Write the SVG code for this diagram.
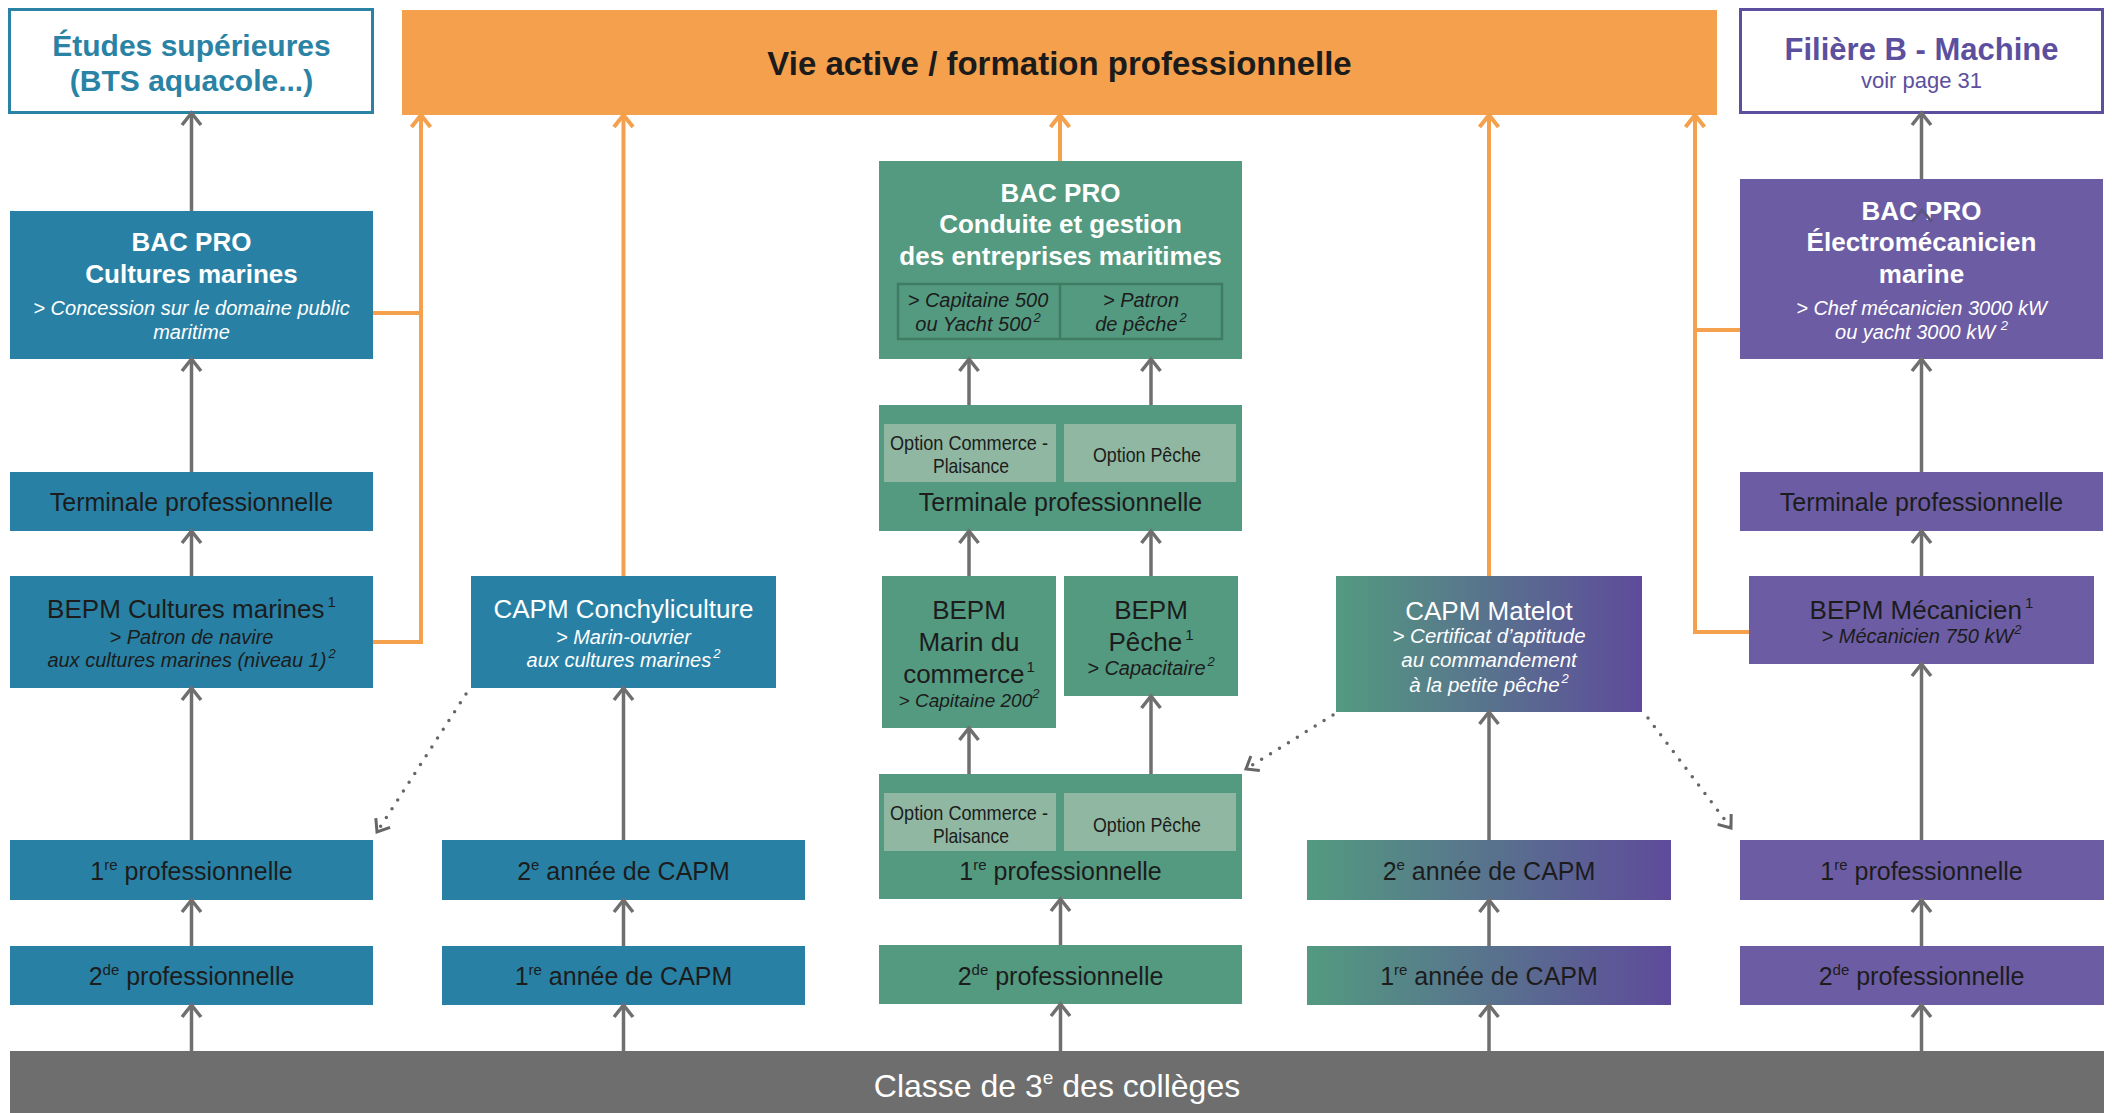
<svg xmlns="http://www.w3.org/2000/svg" width="2112" height="1113" viewBox="0 0 2112 1113">
<defs>
<style>
.blue{fill:#2881a5}
.green{fill:#539a80}
.purple{fill:#6c5ca3}
.grad{fill:url(#gr)}
.opt{fill:#8fb7a2}
.t{font-family:"Liberation Sans",Arial,sans-serif;text-anchor:middle}
.d{fill:#1c1c1c}
.w{fill:#ffffff}
.b{font-weight:bold}
.i{font-style:italic}
.s25{font-size:25px}
.s26{font-size:26px}
.s20{font-size:20px}
.s18{font-size:21px}
.arr{stroke:#6f6f6f;stroke-width:3.5;fill:none;marker-end:url(#ah)}
.oarr{stroke:#f5a04c;stroke-width:4;fill:none}
.oarrm{stroke:#f5a04c;stroke-width:4;fill:none;marker-end:url(#oh)}
.dot{stroke:#666666;stroke-width:3.5;stroke-dasharray:0 10.5;stroke-linecap:round;fill:none;marker-end:url(#dh)}
</style>
<linearGradient id="gr" x1="0" y1="0" x2="1" y2="0">
<stop offset="0" stop-color="#539a80"/>
<stop offset="1" stop-color="#5e4b9b"/>
</linearGradient>
<marker id="ah" markerUnits="userSpaceOnUse" markerWidth="32" markerHeight="32" viewBox="-16 -16 32 32" refX="0" refY="0" orient="auto">
<path d="M-12,-9.5 L0,0 L-12,9.5" fill="none" stroke="#6f6f6f" stroke-width="3.5"/>
</marker>
<marker id="oh" markerUnits="userSpaceOnUse" markerWidth="32" markerHeight="32" viewBox="-16 -16 32 32" refX="0" refY="0" orient="auto">
<path d="M-12,-9.5 L0,0 L-12,9.5" fill="none" stroke="#f5a04c" stroke-width="4"/>
</marker>
<marker id="dh" markerUnits="userSpaceOnUse" markerWidth="32" markerHeight="32" viewBox="-16 -16 32 32" refX="0" refY="0" orient="auto">
<path d="M-11,-8.5 L0,0 L-11,8.5" fill="none" stroke="#666666" stroke-width="3"/>
</marker>
</defs>
<rect width="2112" height="1113" fill="#ffffff"/>

<!-- Top row -->
<g id="etudes-superieures">
<rect x="9.5" y="9.5" width="363" height="103" fill="#ffffff" stroke="#2a83a5" stroke-width="3"/>
<text class="t b" x="191.5" y="56" font-size="30" fill="#2a83a5">Études supérieures</text>
<text class="t b" x="191.5" y="91" font-size="30" fill="#2a83a5">(BTS aquacole...)</text>
</g>
<g id="vie-active">
<rect x="402" y="10" width="1315" height="105" fill="#f5a04c"/>
<text class="t b" x="1059.5" y="75" font-size="33" fill="#1b1b1b">Vie active / formation professionnelle</text>
</g>
<g id="filiere-b">
<rect x="1740.5" y="9.5" width="362" height="103" fill="#ffffff" stroke="#5b4f9e" stroke-width="3"/>
<text class="t b" x="1921.5" y="60" font-size="31" fill="#5b4f9e">Filière B - Machine</text>
<text class="t" x="1921.5" y="88" font-size="22" fill="#5b4f9e">voir page 31</text>
</g>

<!-- Column 1 -->
<g id="bacpro-cultures">
<rect class="blue" x="10" y="211" width="363" height="148"/>
<text class="t b s26 w" x="191.5" y="251">BAC PRO</text>
<text class="t b s26 w" x="191.5" y="283">Cultures marines</text>
<text class="t i s20 w" x="191.5" y="315">&gt; Concession sur le domaine public</text>
<text class="t i s20 w" x="191.5" y="339">maritime</text>
</g>
<g id="terminale-cultures">
<rect class="blue" x="10" y="472" width="363" height="59"/>
<text class="t s25 d" x="191.5" y="511">Terminale professionnelle</text>
</g>
<g id="bepm-cultures">
<rect class="blue" x="10" y="576" width="363" height="112"/>
<text class="t s26 d" x="191.5" y="618">BEPM Cultures marines<tspan font-size="15" dx="3" dy="-11">1</tspan></text>
<text class="t i s20 d" x="191.5" y="644">&gt; Patron de navire</text>
<text class="t i s20 d" x="191.5" y="667">aux cultures marines (niveau 1)<tspan font-size="13" dx="2" dy="-9">2</tspan></text>
</g>
<g id="premiere-cultures">
<rect class="blue" x="10" y="840" width="363" height="60"/>
<text class="t s25 d" x="191.5" y="880">1<tspan font-size="15" dy="-10">re</tspan><tspan dy="10"> professionnelle</tspan></text>
</g>
<g id="seconde-cultures">
<rect class="blue" x="10" y="946" width="363" height="59"/>
<text class="t s25 d" x="191.5" y="985">2<tspan font-size="15" dy="-10">de</tspan><tspan dy="10"> professionnelle</tspan></text>
</g>

<!-- Column 2 -->
<g id="capm-conchyliculture">
<rect class="blue" x="471" y="576" width="305" height="112"/>
<text class="t s26 w" x="623.5" y="618">CAPM Conchyliculture</text>
<text class="t i s20 w" x="623.5" y="644">&gt; Marin-ouvrier</text>
<text class="t i s20 w" x="623.5" y="667">aux cultures marines<tspan font-size="13" dx="2" dy="-9">2</tspan></text>
</g>
<g id="capm2-conchyliculture">
<rect class="blue" x="442" y="840" width="363" height="60"/>
<text class="t s25 d" x="623.5" y="880">2<tspan font-size="15" dy="-10">e</tspan><tspan dy="10"> année de CAPM</tspan></text>
</g>
<g id="capm1-conchyliculture">
<rect class="blue" x="442" y="946" width="363" height="59"/>
<text class="t s25 d" x="623.5" y="985">1<tspan font-size="15" dy="-10">re</tspan><tspan dy="10"> année de CAPM</tspan></text>
</g>

<!-- Column 3 -->
<g id="bacpro-conduite">
<rect class="green" x="879" y="161" width="363" height="198"/>
<text class="t b s26 w" x="1060.5" y="202">BAC PRO</text>
<text class="t b s26 w" x="1060.5" y="233">Conduite et gestion</text>
<text class="t b s26 w" x="1060.5" y="265">des entreprises maritimes</text>
<rect x="898" y="284" width="324" height="55" fill="none" stroke="#3f7c63" stroke-width="2.5"/>
<line x1="1060" y1="284" x2="1060" y2="339" stroke="#3f7c63" stroke-width="2.5"/>
<text class="t i s20 d" x="978" y="307">&gt; Capitaine 500</text>
<text class="t i s20 d" x="978" y="331">ou Yacht 500<tspan font-size="13" dx="2" dy="-9">2</tspan></text>
<text class="t i s20 d" x="1141" y="307">&gt; Patron</text>
<text class="t i s20 d" x="1141" y="331">de pêche<tspan font-size="13" dx="2" dy="-9">2</tspan></text>
</g>
<g id="terminale-conduite">
<rect class="green" x="879" y="405" width="363" height="126"/>
<rect class="opt" x="884" y="424" width="172" height="58"/>
<rect class="opt" x="1064" y="424" width="172" height="58"/>
<text class="t s18 d" x="969" y="450" textLength="158" lengthAdjust="spacingAndGlyphs">Option Commerce -</text>
<text class="t s18 d" x="971" y="473" textLength="76" lengthAdjust="spacingAndGlyphs">Plaisance</text>
<text class="t s18 d" x="1147" y="462" textLength="108" lengthAdjust="spacingAndGlyphs">Option Pêche</text>
<text class="t s25 d" x="1060.5" y="511">Terminale professionnelle</text>
</g>
<g id="bepm-marin-commerce">
<rect class="green" x="882" y="576" width="174" height="152"/>
<text class="t s26 d" x="969" y="619">BEPM</text>
<text class="t s26 d" x="969" y="651">Marin du</text>
<text class="t s26 d" x="969" y="683">commerce<tspan font-size="15" dx="2" dy="-11">1</tspan></text>
<text class="t i d" x="969" y="707" font-size="19">&gt; Capitaine 200<tspan font-size="13" dy="-9">2</tspan></text>
</g>
<g id="bepm-peche">
<rect class="green" x="1064" y="576" width="174" height="120"/>
<text class="t s26 d" x="1151" y="619">BEPM</text>
<text class="t s26 d" x="1151" y="651">Pêche<tspan font-size="15" dx="3" dy="-11">1</tspan></text>
<text class="t i s20 d" x="1151" y="675">&gt; Capacitaire<tspan font-size="13" dx="2" dy="-9">2</tspan></text>
</g>
<g id="premiere-conduite">
<rect class="green" x="879" y="774" width="363" height="125"/>
<rect class="opt" x="884" y="793" width="172" height="58"/>
<rect class="opt" x="1064" y="793" width="172" height="58"/>
<text class="t s18 d" x="969" y="820" textLength="158" lengthAdjust="spacingAndGlyphs">Option Commerce -</text>
<text class="t s18 d" x="971" y="843" textLength="76" lengthAdjust="spacingAndGlyphs">Plaisance</text>
<text class="t s18 d" x="1147" y="832" textLength="108" lengthAdjust="spacingAndGlyphs">Option Pêche</text>
<text class="t s25 d" x="1060.5" y="880">1<tspan font-size="15" dy="-10">re</tspan><tspan dy="10"> professionnelle</tspan></text>
</g>
<g id="seconde-conduite">
<rect class="green" x="879" y="945" width="363" height="59"/>
<text class="t s25 d" x="1060.5" y="985">2<tspan font-size="15" dy="-10">de</tspan><tspan dy="10"> professionnelle</tspan></text>
</g>

<!-- Column 4 -->
<g id="capm-matelot">
<rect class="grad" x="1336" y="576" width="306" height="136"/>
<text class="t s26 w" x="1489" y="620">CAPM Matelot</text>
<text class="t i w" x="1489" y="643" font-size="20.5">&gt; Certificat d’aptitude</text>
<text class="t i w" x="1489" y="667" font-size="20.5">au commandement</text>
<text class="t i w" x="1489" y="692" font-size="20.5">à la petite pêche<tspan font-size="13" dx="2" dy="-9">2</tspan></text>
</g>
<g id="capm2-matelot">
<rect class="grad" x="1307" y="840" width="364" height="60"/>
<text class="t s25 d" x="1489" y="880">2<tspan font-size="15" dy="-10">e</tspan><tspan dy="10"> année de CAPM</tspan></text>
</g>
<g id="capm1-matelot">
<rect class="grad" x="1307" y="946" width="364" height="59"/>
<text class="t s25 d" x="1489" y="985">1<tspan font-size="15" dy="-10">re</tspan><tspan dy="10"> année de CAPM</tspan></text>
</g>

<!-- Column 5 -->
<g id="bacpro-electromecanicien">
<rect class="purple" x="1740" y="179" width="363" height="180"/>
<text class="t b s26 w" x="1921.5" y="220">BAC PRO</text>
<text class="t b s26 w" x="1921.5" y="251">Électromécanicien</text>
<text class="t b s26 w" x="1921.5" y="283">marine</text>
<text class="t i s20 w" x="1921.5" y="315">&gt; Chef mécanicien 3000 kW</text>
<text class="t i s20 w" x="1921.5" y="339">ou yacht 3000 kW <tspan font-size="13" dy="-9">2</tspan></text>
</g>
<g id="terminale-machine">
<rect class="purple" x="1740" y="472" width="363" height="59"/>
<text class="t s25 d" x="1921.5" y="511">Terminale professionnelle</text>
</g>
<g id="bepm-mecanicien">
<rect class="purple" x="1749" y="576" width="345" height="88"/>
<text class="t s26 d" x="1921.5" y="619">BEPM Mécanicien<tspan font-size="15" dx="3" dy="-11">1</tspan></text>
<text class="t i s20 d" x="1921.5" y="643">&gt; Mécanicien 750 kW<tspan font-size="13" dx="1" dy="-9">2</tspan></text>
</g>
<g id="premiere-machine">
<rect class="purple" x="1740" y="840" width="364" height="60"/>
<text class="t s25 d" x="1921.5" y="880">1<tspan font-size="15" dy="-10">re</tspan><tspan dy="10"> professionnelle</tspan></text>
</g>
<g id="seconde-machine">
<rect class="purple" x="1740" y="946" width="364" height="59"/>
<text class="t s25 d" x="1921.5" y="985">2<tspan font-size="15" dy="-10">de</tspan><tspan dy="10"> professionnelle</tspan></text>
</g>

<!-- Bottom bar -->
<g id="classe-3e">
<rect x="10" y="1051" width="2094" height="62" fill="#6e6e6e"/>
<text class="t w" x="1057" y="1097" font-size="32">Classe de 3<tspan font-size="19" dy="-13">e</tspan><tspan dy="13"> des collèges</tspan></text>
</g>

<!-- Connectors -->
<g id="connectors">
<!-- column 1 -->
<line class="arr" x1="191.5" y1="1051" x2="191.5" y2="1005"/>
<line class="arr" x1="191.5" y1="946" x2="191.5" y2="900"/>
<line class="arr" x1="191.5" y1="840" x2="191.5" y2="688"/>
<line class="arr" x1="191.5" y1="576" x2="191.5" y2="531"/>
<line class="arr" x1="191.5" y1="472" x2="191.5" y2="359"/>
<line class="arr" x1="191.5" y1="211" x2="191.5" y2="113"/>
<path class="oarr" d="M373,313 H421"/>
<path class="oarrm" d="M373,642 H421 V115"/>
<!-- column 2 -->
<line class="arr" x1="623.5" y1="1051" x2="623.5" y2="1005"/>
<line class="arr" x1="623.5" y1="946" x2="623.5" y2="900"/>
<line class="arr" x1="623.5" y1="840" x2="623.5" y2="688"/>
<path class="oarrm" d="M623.5,576 V115"/>
<path class="dot" d="M466,694 L377,832"/>
<!-- column 3 -->
<line class="arr" x1="1060.5" y1="1051" x2="1060.5" y2="1004"/>
<line class="arr" x1="1060.5" y1="945" x2="1060.5" y2="899"/>
<line class="arr" x1="969" y1="774" x2="969" y2="728"/>
<line class="arr" x1="1151" y1="774" x2="1151" y2="696"/>
<line class="arr" x1="969" y1="576" x2="969" y2="531"/>
<line class="arr" x1="1151" y1="576" x2="1151" y2="531"/>
<line class="arr" x1="969" y1="405" x2="969" y2="359"/>
<line class="arr" x1="1151" y1="405" x2="1151" y2="359"/>
<path class="oarrm" d="M1060,161 V115"/>
<!-- column 4 -->
<line class="arr" x1="1489" y1="1051" x2="1489" y2="1005"/>
<line class="arr" x1="1489" y1="946" x2="1489" y2="900"/>
<line class="arr" x1="1489" y1="840" x2="1489" y2="712"/>
<path class="oarrm" d="M1489,576 V115"/>
<path class="dot" d="M1333,715 L1246,769"/>
<path class="dot" d="M1648,718 L1731,828"/>
<!-- column 5 -->
<line class="arr" x1="1921.5" y1="1051" x2="1921.5" y2="1005"/>
<line class="arr" x1="1921.5" y1="946" x2="1921.5" y2="900"/>
<line class="arr" x1="1921.5" y1="840" x2="1921.5" y2="664"/>
<line class="arr" x1="1921.5" y1="576" x2="1921.5" y2="531"/>
<line class="arr" x1="1921.5" y1="472" x2="1921.5" y2="359"/>
<line class="arr" x1="1921.5" y1="179" x2="1921.5" y2="113"/>
<path class="oarr" d="M1740,330 H1695"/>
<path class="oarrm" d="M1749,632 H1695 V115"/>
<path d="M1912,222 L1922,210 L1932,222" fill="none" stroke="#5d5680" stroke-width="3"/>
</g>
</svg>
